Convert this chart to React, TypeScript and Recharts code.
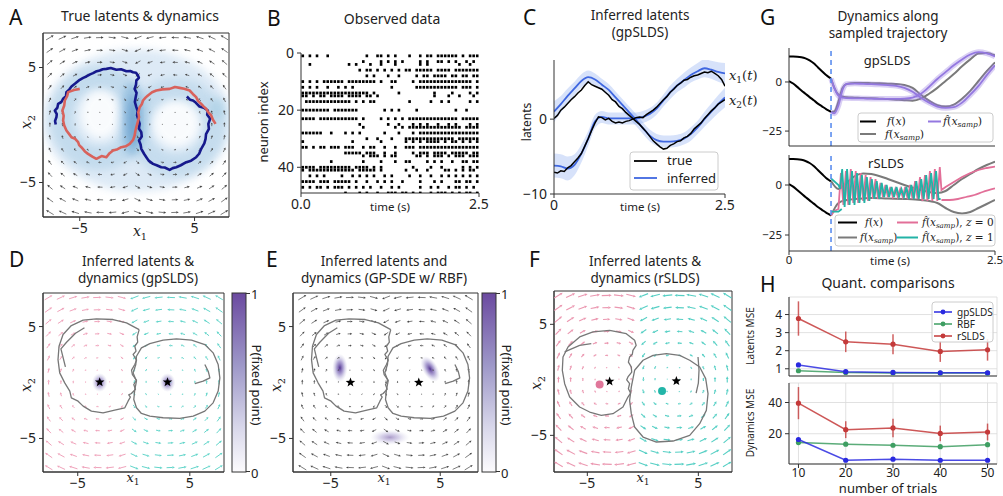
import React from "react";
import {
  ScatterChart, Scatter, XAxis, YAxis, ComposedChart, Line, Area, LineChart,
  ErrorBar, CartesianGrid, ReferenceLine, ReferenceArea,
} from "recharts";

const FONT = '"Noto Sans", "DejaVu Sans", sans-serif';
const MATH = '"DejaVu Serif", serif';
const INK = "#222";
const SPINE = "#333";
const M0 = { top: 0, right: 0, bottom: 0, left: 0 };

// ---------------- Panel A data ----------------
const A_BLUE: number[][] = [
  [4.33,2.48],[4.6,2.2],[4.86,2.13],[5.1,1.95],[5.43,1.61],[5.8,1.5],[6.16,1.26],[6.1,0.9],[6.36,0.54],[6.2,0.1],
  [6.25,-0.33],[6.0,-0.8],[5.96,-1.2],[5.85,-1.6],[5.58,-2.07],[5.4,-2.5],[5.14,-2.8],[4.7,-3.1],[4.28,-3.23],[3.8,-3.5],
  [3.41,-3.67],[3.1,-3.75],[2.83,-3.9],[2.4,-3.7],[2.1,-3.67],[1.7,-3.5],[1.38,-3.38],[1.0,-3.1],[0.8,-2.8],[0.6,-2.5],
  [0.36,-2.07],[0.3,-1.7],[0.16,-1.35],[0.4,-1.0],[0.36,-0.62],[0.15,-0.3],[0.22,0.1],[0.1,0.5],[-0.01,0.83],[0.05,1.2],
  [-0.07,1.55],[-0.2,2.0],[-0.13,2.42],[-0.05,2.8],[-0.22,3.14],[-0.1,3.5],[-0.07,3.87],[0.15,4.1],[0.07,4.3],[-0.1,4.55],
  [-0.36,4.59],[-0.6,4.7],[-0.94,4.68],[-1.4,4.85],[-1.81,4.8],[-2.3,4.95],[-2.68,4.88],[-3.0,4.85],[-3.26,4.74],[-3.6,4.65],
  [-3.84,4.51],[-4.1,4.4],[-4.42,4.22],[-4.7,4.1],[-5.0,3.93],[-5.4,3.6],[-5.72,3.35],[-5.9,3.1],[-6.16,2.86],[-6.2,2.5],
  [-6.45,2.28],[-6.6,2.0],[-6.88,1.84],[-6.95,1.5],[-7.17,1.26],[-7.0,0.95],[-7.03,0.68],[-7.15,0.35],[-7.09,0.04],
];
const A_RED: number[][] = [
  [-5.0,3.14],[-5.5,3.05],[-6.01,2.86],[-6.1,2.5],[-6.3,2.13],[-6.35,1.7],[-6.51,1.26],[-6.4,0.8],[-6.45,0.39],[-6.35,-0.05],
  [-6.16,-0.48],[-5.95,-0.75],[-5.72,-1.06],[-5.4,-1.2],[-5.14,-1.49],[-5.05,-1.75],[-4.86,-1.93],[-4.55,-2.3],[-4.28,-2.51],[-3.9,-2.75],
  [-3.55,-2.94],[-3.1,-2.7],[-2.68,-2.8],[-2.4,-2.45],[-2.1,-2.22],[-1.7,-2.1],[-1.38,-1.93],[-1.0,-1.85],[-0.65,-1.64],[-0.35,-1.3],
  [-0.22,-0.91],[-0.15,-0.5],[-0.07,-0.19],[0.05,0.25],[0.16,0.68],[0.1,1.1],[0.22,1.55],[0.4,1.8],[0.51,2.13],[0.75,2.4],
  [0.94,2.57],[1.3,2.85],[1.67,3.0],[2.2,3.1],[2.83,3.14],[3.3,3.3],[3.7,3.23],[4.1,3.15],[4.57,3.0],[4.85,2.7],
  [5.14,2.42],[5.3,2.1],[5.58,1.84],[5.8,1.6],[6.01,1.41],[6.2,1.1],[6.45,0.83],[6.6,0.45],[6.83,0.1],
];
// density blobs (x, y, rx, ry in data units)
const A_DENSITY = [
  { x: 0, y: 0.4, rx: 8.2, ry: 6.2, c: "#d2e3f3", o: 0.75, blur: true },
  { x: -3.3, y: 0.6, rx: 3.3, ry: 3.5, c: "#a9cce4", o: 0.5, ring: true, w: 2.0 },
  { x: 3.4, y: -0.2, rx: 3.3, ry: 3.3, c: "#a9cce4", o: 0.45, ring: true, w: 2.0 },
  { x: -3.2, y: 0.9, rx: 1.7, ry: 2.1, c: "#ffffff", o: 0.85, blur: true },
  { x: 3.4, y: 0.1, rx: 2.0, ry: 2.0, c: "#ffffff", o: 0.85, blur: true },
  { x: -0.45, y: 0.5, rx: 1.0, ry: 3.3, c: "#7fb2da", o: 0.6, blur: true },
  { x: -0.35, y: 0.3, rx: 0.45, ry: 2.2, c: "#4a86c0", o: 0.5, blur: true },
  { x: 7.0, y: 1.4, rx: 0.7, ry: 1.0, c: "#9ecae1", o: 0.5, blur: true },
];

// ---------------- vector field ----------------
const GRID = [-7.6, -6.5, -5.4, -4.3, -3.25, -2.15, -1.05, 0.05, 1.1, 2.2, 3.3, 4.35, 5.45, 6.5, 7.6];
const FP_LEFT = [-3, 0];
const FP_RIGHT = [3, 0];
function flowAt(x: number, y: number) {
  const left = x < 0;
  const c = left ? FP_LEFT : FP_RIGHT;
  const dx = x - c[0], dy = y - c[1];
  return left ? { u: dy, v: -dx } : { u: -dy, v: dx };
}
const QUIVER = GRID.flatMap((y) => GRID.map((x) => ({ x, y, ...flowAt(x, y) })));

// ---------------- Panel B data ----------------
const RASTER_ROWS: { n: number; s: string }[] = [
  { n: 1, s: "1.1.1..1.." + "........1." + ".11.1.1..." + "1..1.11.11" + "1111.1.111" },
  { n: 3, s: ".........." + ".......1.." + "..1.1.1.1." + "...1.1..11" + ".1.1..1.1." },
  { n: 4, s: "..1......." + "...1.1...1" + "..1...1..." + "...1.1...." + "....1..1.." },
  { n: 6, s: ".........." + "......1.11" + ".1.1.1.1.1" + "1.11111.11" + "11.1111111" },
  { n: 8, s: ".........." + "........1." + "1...1..1.." + "..1.11.111" + "1.11.11.11" },
  { n: 10, s: "1.1.1.1111" + "11.1111111" + "1.1..11..." + ".1.1111111" + "11111111.1" },
  { n: 12, s: "1.1.1..1.." + "1.1.1....." + ".....1...." + "..11111111" + "1111.111.1" },
  { n: 14, s: "1111111111" + "111111111." + "1......1.." + ".......1.." + "..1....1.1" },
  { n: 15, s: "11.1.11.11" + "11.1111.11" + ".1........" + ".......1.." + ".1..1...1." },
  { n: 17, s: ".111111111" + "1111.1.1.1" + "1........." + "1.....1..1" + ".1.....1.1" },
  { n: 20, s: "11111111.1" + "111111...." + "...1.1.1.." + "..1......." + "...1..1..." },
  { n: 23, s: "1111.11111" + "111111.1.." + "..1.1.1.1." + "1111111111" + "1111.11111" },
  { n: 25, s: ".........." + "......1..." + "....1..1.." + ".1.1.1..1." + ".1.1...1.1" },
  { n: 26, s: ".........." + ".......1.." + "......1.1." + "1111111111" + "11111.1111" },
  { n: 28, s: "111111..1." + "..1.1.1..." + "...1...1.." + ".1.1111111" + "1111111111" },
  { n: 30, s: ".........." + "........1." + ".1...1...1" + "1111111111" + "111.111111" },
  { n: 31, s: "1........." + "....1....." + "..1......1" + ".1.1.1111." + "1.11.1.1.1" },
  { n: 33, s: "11.1.11.11" + "1.111..1.1" + "1..1..1..1" + "11.1111111" + "1111111111" },
  { n: 35, s: ".........." + "..11111.11" + "1..1..1..." + ".1.111.111" + "1.11111.11" },
  { n: 36, s: ".........." + ".......1.1" + "11.1.11..." + "..11.1.111" + ".1.111.111" },
  { n: 38, s: "........1." + ".......1.." + "..1...1..1" + "1....1.1.1" + "..1..11.11" },
  { n: 40, s: "1111.11111" + "1111.1111." + "1.1......." + ".1....1..1" + ".....1.1.1" },
  { n: 41, s: "1.11111111" + "11111.1111" + "1.1......1" + "..1..1...." + "11.1.1.11." },
  { n: 43, s: "..1.1.1..." + ".1..1.1.1." + "1..1.1...." + "1..1..1..1" + ".1.1.1.1.1" },
  { n: 45, s: "1111.111.1" + "1111.1..1." + ".1.1.1..1." + "...1...1.1" + "...11.11.1" },
  { n: 47, s: "1.1.11.1.1" + "11.1.1.1.1" + "..1..1.1.." + "...1..1.1." + ".1.11.1.1." },
  { n: 49, s: ".........." + "..1...1.1." + ".1..111.11" + ".1.1..1.11" + "1.1.1.11.1" },
];
const SPIKES = RASTER_ROWS.flatMap((r) =>
  [...r.s].map((ch, i) => (ch === "1" ? { x: ((i + 0.5) * 2.5) / r.s.length, y: r.n } : null)).filter(Boolean)
) as { x: number; y: number }[];

// ---------------- Panel C data ----------------
const C_P_INF = [1.0,2.0,3.1,4.1,5.1,5.6,5.3,4.6,3.9,2.9,1.9,0.9,-0.1,-1.2,-2.2,-2.8,-3.0,-3.0,-2.9,-2.6,-2.0,-1.1,0.0,1.0,2.0,2.9];
const C_Q_INF = [-6.2,-6.3,-6.6,-6.1,-4.6,-2.6,-0.3,0.3,0.1,0.1,0.1,0.1,0.1,0.3,0.7,1.4,2.5,3.6,4.5,5.2,5.9,6.4,6.8,6.6,6.3,6.1];
const C_P_HW = [1.4,1.1,1.0,0.9,0.9,0.9,0.8,0.8,0.8,0.8,0.8,0.8,0.8,0.8,0.8,0.8,0.8,0.8,0.8,0.8,0.9,0.9,1.0,1.1,1.2,1.3];
const C_Q_HW = [1.6,1.6,1.6,1.4,1.2,1.0,0.9,0.8,0.8,0.8,0.8,0.8,0.8,0.8,0.8,0.8,0.8,0.9,0.9,1.0,1.0,1.1,1.2,1.2,1.3,1.4];
const C_P_TRUE = [0.1,0.5,1.2,1.6,2.1,2.6,3.0,3.5,3.9,4.5,5.0,4.6,4.4,4.2,4.0,3.6,3.2,2.6,2.3,1.7,1.4,0.9,0.5,0.1,-0.3,-0.7,-1.2,-1.7,-2.3,-2.9,-3.3,-3.7,-4.0,-3.9,-3.5,-3.3,-3.0,-2.9,-2.5,-2.3,-1.9,-1.3,-0.9,-0.5,0.1,0.6,1.1,1.5,2.0,2.3,2.6];
const C_Q_TRUE = [-7.1,-7.2,-6.9,-7.0,-6.5,-6.2,-5.7,-5.2,-4.6,-3.6,-2.6,-1.5,-0.5,0.3,0.2,-0.1,0.1,-0.3,-0.5,-0.4,-0.5,-0.3,-0.2,0.0,0.2,0.3,0.2,0.6,0.9,1.2,1.6,2.1,2.6,3.0,3.6,4.0,4.5,4.8,5.2,5.3,5.6,5.8,5.9,6.1,6.3,6.2,6.4,6.1,5.8,5.3,4.4];
const C_INF = C_P_INF.map((p, i) => ({
  t: i * 0.1, p, q: C_Q_INF[i],
  pb: [p - C_P_HW[i], p + C_P_HW[i]], qb: [C_Q_INF[i] - C_Q_HW[i], C_Q_INF[i] + C_Q_HW[i]],
}));
const C_TRUE = C_P_TRUE.map((p, i) => ({ t: i * 0.05, p, q: C_Q_TRUE[i] }));

// ---------------- Panel G data ----------------
const G_T_BLACK = [0,0.05,0.1,0.15,0.2,0.25,0.3,0.35,0.4,0.45,0.5,0.51];
const G_F1 = [13,13,12.9,12.6,12,11,9.5,7.5,5.5,3.5,2.0,1.7];
const G_F2 = [0.5,-0.8,-2.5,-4.3,-6,-7.7,-9.3,-11,-12.4,-13.8,-15,-15.3];
const G_T_S = [0.51,0.55,0.6,0.65,0.7,0.8,0.9,1.0,1.1,1.2,1.3,1.4,1.5,1.6,1.7,1.8,1.9,2.0,2.1,2.2,2.3,2.4,2.5];
const G_PURPLE_A = [1.7,-3,-7,-8,-8.2,-8.3,-8.4,-8.5,-8.6,-8.6,-8.6,-8.5,-8,-6,-2.5,1.5,5,8.5,11.5,14,15.2,14.6,13];
const G_PURPLE_B = [-15.3,-16,-12,-4,-1,-0.8,-1,-1.1,-1.3,-1.6,-2,-3,-5,-8,-10.5,-12.5,-13.2,-12.8,-10.5,-6.5,-2,3.5,8.5];
const G_GRAY_A = [1.7,-3,-6.5,-7.5,-7.8,-8,-8.2,-8.3,-8.5,-8.7,-9,-9.3,-9.5,-8.5,-6,-3,0.5,4,8,11.5,14.5,14.8,13.5];
const G_GRAY_B = [-15.3,-15,-10,-3,-1,-0.5,-0.5,-0.6,-0.7,-0.9,-1,-1.5,-3,-6.5,-9.5,-11.8,-12.5,-11.5,-8.5,-4.5,0.5,5.5,10];
const G_T_R = [0.51,0.6,0.7,0.8,0.9,1.0,1.2,1.4,1.6,1.8,1.9,2.0,2.1,2.2,2.3,2.4,2.5];
const G_R_GRAY_A = [2.0,-2,1,4.5,5.8,5.5,3,0,-2.5,-4,-3,0,3,5.5,8,10,11.7];
const G_R_GRAY_B = [-15.3,-9,-7.5,-7,-6.7,-6.5,-6.8,-7,-7.5,-9,-11.5,-13.5,-14.2,-13.5,-11.5,-9.5,-7.5];
const G_PINK: number[][] = [
  [0.51,-15.3],[0.55,-13],[0.6,-12],[0.63,6],[0.66,-10],[0.69,7],[0.72,-10],[0.75,8],[0.78,-9],[0.81,7],[0.84,-9],[0.87,6],
  [0.9,-8],[0.93,5],[0.96,-8],[0.99,4],[1.02,-7],[1.05,3],[1.08,-7],[1.11,1],[1.14,-6],[1.17,0],[1.2,-6],[1.23,-1],
  [1.26,-6],[1.29,-2],[1.32,-6],[1.35,-2],[1.38,-6],[1.41,-1],[1.44,-7],[1.47,0],[1.5,-7],[1.53,2],[1.56,-7],[1.59,4],
  [1.62,-8],[1.65,5],[1.68,-8],[1.71,7],[1.74,-8],[1.77,8],[1.8,-8],[1.83,9],[1.85,-2.5],[1.9,-1],[2.0,1.5],[2.1,4],
  [2.2,6],[2.3,7.5],[2.4,8.5],[2.5,9.2],
];
const G_PINK_B: number[][] = [[1.85,-7.5],[1.95,-7.5],[2.05,-7],[2.15,-6],[2.25,-5],[2.35,-3.5],[2.5,-1.7]];
const G_TEAL: number[][] = [
  [0.51,3.3],[0.6,0],[0.62,-2],[0.645,8],[0.675,-11],[0.705,8],[0.735,-10],[0.765,7],[0.795,-10],[0.825,6],[0.855,-9],
  [0.885,5],[0.915,-9],[0.945,4],[0.975,-8],[1.005,3],[1.035,-7],[1.065,2],[1.095,-7],[1.125,1],[1.155,-6],[1.185,0],
  [1.215,-6],[1.245,-1],[1.275,-6],[1.305,-1],[1.335,-6],[1.365,-2],[1.395,-6],[1.425,-1],[1.455,-7],[1.485,0],[1.515,-7],
  [1.545,2],[1.575,-7],[1.605,3],[1.635,-7],[1.665,5],[1.695,-7],[1.725,6],[1.755,-7],[1.785,7],[1.815,-7],[1.84,-7],
];
const G_TEAL_B: number[][] = [[0.51,-13.3],[0.6,-13.3],[0.64,-12]];
const G_SPLIT = 0.51;

// ---------------- Panels D/E/F data ----------------
const DE_LEFT: number[][] = [
  [0.48,4.73],[-0.65,5.33],[-1.85,5.63],[-3.33,5.68],[-4.52,5.57],[-5.57,5.09],[-6.31,4.29],[-6.67,3.24],[-6.76,2.05],
  [-6.61,0.86],[-6.16,-0.03],[-5.71,-0.77],[-5.57,-1.37],[-4.97,-1.67],[-4.52,-2.11],[-3.78,-2.56],[-2.74,-2.71],
  [-1.7,-2.47],[-0.8,-2.26],[-0.51,-1.67],[-0.3,-1.3],[-0.45,-1.1],[-0.21,-0.98],[0.15,-0.6],[0.0,-0.18],[0.25,0.2],
  [-0.12,0.71],[-0.2,1.1],[0.09,1.61],[0.25,2.0],[-0.06,2.5],[0.2,2.8],[0.09,3.24],[0.35,3.6],[0.3,4.08],[0.48,4.73],
];
const DE_LEFT_BRANCH: number[][] = [[-4.4,4.9],[-5.2,4.4],[-6.0,3.6],[-6.5,3.0],[-6.3,2.2],[-6.1,1.4]];
const DE_RIGHT: number[][] = [
  [0.24,2.35],[0.68,3.1],[1.43,3.48],[2.62,3.78],[3.81,3.9],[5.15,3.78],[6.34,3.39],[7.08,2.65],[7.53,1.61],[7.68,0.42],
  [7.53,-0.77],[7.08,-1.82],[6.34,-2.56],[5.3,-3.01],[4.11,-3.21],[2.62,-3.15],[1.43,-3.01],[0.68,-2.77],[0.24,-2.26],
  [0.0,-1.52],[0.09,-0.63],[0.24,0.12],[-0.06,0.86],[0.18,1.61],[0.24,2.35],
];
const DE_RIGHT_HOOK: number[][] = [[6.34,1.61],[6.64,1.01],[6.79,0.42],[6.19,0.12],[5.45,-0.09]];
const F_LEFT: number[][] = [
  [-0.74,3.56],[-1.49,4.16],[-2.99,4.46],[-4.49,4.31],[-5.69,3.86],[-6.74,2.96],[-7.19,2.06],[-7.25,0.86],[-7.04,-0.35],
  [-6.59,-1.55],[-5.69,-2.45],[-4.79,-2.9],[-3.74,-3.2],[-2.69,-3.05],[-1.79,-2.45],[-1.34,-1.55],[-1.1,-1.2],[-1.3,-0.8],
  [-1.19,-0.35],[-1.45,0.0],[-1.34,0.26],[-1.0,0.7],[-1.04,1.16],[-1.3,1.6],[-1.19,2.06],[-0.95,2.3],[-0.89,2.66],
  [-0.6,3.1],[-0.74,3.56],
];
const F_LEFT_BRANCH: number[][] = [[-7.04,2.51],[-5.69,3.11],[-4.64,3.26]];
const F_RIGHT: number[][] = [
  [-1.04,-0.65],[-0.74,0.86],[0.02,1.76],[0.92,2.21],[2.12,2.36],[3.32,2.21],[4.22,1.76],[5.12,1.16],[5.66,0.11],
  [5.87,-1.25],[5.72,-2.75],[5.12,-3.95],[4.22,-5.0],[2.72,-5.51],[1.22,-5.6],[0.02,-5.15],[-0.74,-4.25],[-1.04,-3.05],
  [-1.19,-1.85],[-1.04,-0.65],
];
const F_RIGHT_TAIL: number[][] = [[4.97,2.06],[5.06,0.86],[5.0,-0.3],[4.8,-1.2]];
const D_STARS = [{ x: -3.04, y: 0.03 }, { x: 3.01, y: 0.03 }];
const E_STARS = [{ x: -3.2, y: 0.0 }, { x: 3.04, y: 0.0 }];
const F_STARS = [{ x: -2.99, y: -0.14 }, { x: 3.02, y: -0.11 }];
const F_DOTS = [{ x: -3.89, y: -0.41, c: "#e0779a" }, { x: 1.73, y: -1.01, c: "#22b5a8" }];
const D_BLOBS = [
  { x: -3.04, y: 0.0, rx: 0.7, ry: 0.85, o: 0.85 },
  { x: 3.01, y: 0.0, rx: 0.7, ry: 0.85, o: 0.85 },
];
const E_BLOBS = [
  { x: -4.17, y: 1.3, rx: 0.7, ry: 1.3, o: 1 },
  { x: 4.08, y: 1.21, rx: 0.7, ry: 1.3, o: 1, rot: -30 },
  { x: 0.4, y: -4.9, rx: 1.8, ry: 0.7, o: 0.5 },
];

// ---------------- Panel H data ----------------
const N_TRIALS = [10, 20, 30, 40, 50];
const LAT_GP = [1.21, 0.84, 0.8, 0.78, 0.78];
const LAT_GP_E = [0.06, 0.03, 0.02, 0.02, 0.02];
const LAT_RBF = [0.89, 0.8, 0.77, 0.76, 0.76];
const LAT_RBF_E = [0.04, 0.02, 0.02, 0.02, 0.02];
const LAT_RS = [3.78, 2.49, 2.36, 1.96, 2.05];
const LAT_RS_E = [0.95, 0.57, 0.55, 0.58, 0.6];
const DYN_GP = [16.3, 3.0, 3.7, 3.0, 3.0];
const DYN_GP_E = [0.8, 0.4, 0.5, 0.3, 0.3];
const DYN_RBF = [14.3, 13.3, 12.6, 11.7, 13.0];
const DYN_RBF_E = [0.8, 0.5, 0.5, 0.5, 0.5];
const DYN_RS = [39.6, 22.6, 23.7, 20.2, 21.1];
const DYN_RS_E = [10.3, 5.4, 5.9, 5.0, 5.4];
const H_LAT = N_TRIALS.map((n, i) => ({ n, gp: LAT_GP[i], gpE: LAT_GP_E[i], rbf: LAT_RBF[i], rbfE: LAT_RBF_E[i], rs: LAT_RS[i], rsE: LAT_RS_E[i] }));
const H_DYN = N_TRIALS.map((n, i) => ({ n, gp: DYN_GP[i], gpE: DYN_GP_E[i], rbf: DYN_RBF[i], rbfE: DYN_RBF_E[i], rs: DYN_RS[i], rsE: DYN_RS_E[i] }));

// ---------------- helpers ----------------
type Box = { L: number; T: number; R: number; B: number };
const fmt = (v: number) => String(v).replace("-", "\u2212");
const tickStyle = (fs: number) => ({ fontSize: fs, fill: INK, fontFamily: FONT });
const toXY = (a: number[][]) => a.map(([x, y]) => ({ x, y }));
const toTV = (t: number[], v: number[]) => t.map((tt, i) => ({ t: tt, v: v[i] }));
const pairsTV = (a: number[][]) => a.map(([t, v]) => ({ t, v }));
const noShape = () => <g />;

function Frame({ box, yW, xH, children }: { box: Box; yW: number; xH: number; children: (w: number, h: number) => React.ReactNode }) {
  const w = box.R - box.L + yW;
  const h = box.B - box.T + xH;
  return <div style={{ position: "absolute", left: box.L - yW, top: box.T, width: w, height: h }}>{children(w, h)}</div>;
}

function xAx(domain: [number, number], ticks: number[], opts: any = {}) {
  return (
    <XAxis type="number" dataKey="x" domain={domain} ticks={ticks} allowDataOverflow interval={0}
      tickSize={4} tickMargin={2} tick={tickStyle(14)} tickFormatter={fmt}
      axisLine={{ stroke: SPINE }} tickLine={{ stroke: SPINE }} height={30} {...opts} />
  );
}
function yAx(domain: [number, number], ticks: number[], width: number, opts: any = {}) {
  return (
    <YAxis type="number" dataKey="y" domain={domain} ticks={ticks} allowDataOverflow interval={0} width={width}
      tickSize={4} tickMargin={3} tick={tickStyle(14)} tickFormatter={fmt}
      axisLine={{ stroke: SPINE }} tickLine={{ stroke: SPINE }} {...opts} />
  );
}
function frameRect(xd: [number, number], yd: [number, number]) {
  return <ReferenceArea x1={xd[0]} x2={xd[1]} y1={yd[0]} y2={yd[1]} fill="none" fillOpacity={0} stroke={SPINE} strokeWidth={1} ifOverflow="visible" />;
}

function makeArrow(k: number, maxL: number, colorFor: (p: any) => string, sw = 0.8, head = 1) {
  return (props: any) => {
    const { cx, cy, payload } = props;
    const m = Math.hypot(payload.u, payload.v);
    if (!m || cx == null) return <g />;
    const L = Math.max(1.1, Math.min(maxL, k * m));
    const ux = payload.u / m, uy = -payload.v / m;
    const x0 = cx - (ux * L) / 2, y0 = cy - (uy * L) / 2;
    const x1 = cx + (ux * L) / 2, y1 = cy + (uy * L) / 2;
    const hl = Math.min(2.6 * head, L * 0.45);
    const hw = Math.min(1.2 * head, 0.25 * L + 0.35);
    const bx = x1 - ux * hl, by = y1 - uy * hl;
    const c = colorFor(payload);
    return (
      <g>
        <line x1={x0} y1={y0} x2={bx} y2={by} stroke={c} strokeWidth={sw} />
        <polygon points={`${x1},${y1} ${bx - uy * hw},${by + ux * hw} ${bx + uy * hw},${by - ux * hw}`} fill={c} />
      </g>
    );
  };
}
const blobShape = (S: number) => (props: any) => {
  const { cx, cy, payload: p } = props;
  if (cx == null) return <g />;
  if (p.ring)
    return <ellipse cx={cx} cy={cy} rx={p.rx * S} ry={p.ry * S} fill="none" stroke={p.c} strokeWidth={p.w * S} opacity={p.o} filter="url(#blurA)" />;
  return <ellipse cx={cx} cy={cy} rx={p.rx * S} ry={p.ry * S} fill={p.c} opacity={p.o} filter={p.blur ? "url(#blurA)" : undefined} />;
};
const purpleBlob = (S: number) => (props: any) => {
  const { cx, cy, payload: p } = props;
  if (cx == null) return <g />;
  return <ellipse cx={cx} cy={cy} rx={p.rx * S} ry={p.ry * S} fill="url(#purpBlob)" opacity={p.o}
    transform={p.rot ? `rotate(${p.rot} ${cx} ${cy})` : undefined} />;
};
const starShape = (r: number) => (props: any) => {
  const { cx, cy } = props;
  if (cx == null) return <g />;
  const pts: string[] = [];
  for (let i = 0; i < 10; i++) {
    const a = ((-90 + i * 36) * Math.PI) / 180;
    const rr = i % 2 ? r * 0.42 : r;
    pts.push(`${cx + rr * Math.cos(a)},${cy + rr * Math.sin(a)}`);
  }
  return <polygon points={pts.join(" ")} fill="#000" />;
};
const dotShape = (props: any) => {
  const { cx, cy, payload } = props;
  if (cx == null) return <g />;
  return <circle cx={cx} cy={cy} r={4} fill={payload.c} />;
};
const spikeShape = (props: any) => {
  const { cx, cy } = props;
  if (cx == null) return <g />;
  return <rect x={cx - 1.3} y={cy - 1.4} width={2.6} height={2.8} fill="#000" />;
};

function traj(data: number[][], color: string, w: number, key: string) {
  return (
    <Scatter key={key} data={toXY(data)} fill={color} shape={noShape} line={{ stroke: color, strokeWidth: w, strokeLinejoin: "round" }}
      lineType="joint" isAnimationActive={false} />
  );
}

// ---------------- Panels ----------------
const A_BOX: Box = { L: 43, T: 33, R: 229, B: 217 };
const A_XD: [number, number] = [-8.2, 8.0];
const A_YD: [number, number] = [-8, 8];
function PanelA() {
  const S = (A_BOX.R - A_BOX.L) / (A_XD[1] - A_XD[0]);
  return (
    <Frame box={A_BOX} yW={40} xH={30}>
      {(w, h) => (
        <ScatterChart width={w} height={h} margin={M0}>
          {xAx(A_XD, [-5, 5])}
          {yAx(A_YD, [-5, 5], 40)}
          <Scatter data={A_DENSITY} shape={blobShape(S)} isAnimationActive={false} />
          <Scatter data={QUIVER} shape={makeArrow(1.0, 10, () => "#444", 0.7)} isAnimationActive={false} />
          {traj(A_BLUE, "#16198c", 2.6, "blue")}
          {traj(A_RED, "#d8625c", 2.6, "red")}
          {frameRect(A_XD, A_YD)}
        </ScatterChart>
      )}
    </Frame>
  );
}

const B_BOX: Box = { L: 301, T: 53, R: 479, B: 193 };
function PanelB() {
  return (
    <Frame box={B_BOX} yW={40} xH={30}>
      {(w, h) => (
        <ScatterChart width={w} height={h} margin={M0}>
          {xAx([0, 2.5], [0, 2.5], { tickFormatter: (v: number) => v.toFixed(1) })}
          {yAx([0, 49], [0, 20, 40], 40, { reversed: true })}
          <Scatter data={SPIKES} shape={spikeShape} isAnimationActive={false} />
        </ScatterChart>
      )}
    </Frame>
  );
}

const C_BOX: Box = { L: 554, T: 60, R: 725, B: 194 };
function PanelC() {
  return (
    <Frame box={C_BOX} yW={45} xH={30}>
      {(w, h) => (
        <ComposedChart width={w} height={h} margin={M0} data={C_INF}>
          <XAxis type="number" dataKey="t" domain={[0, 2.5]} ticks={[0, 2.5]} allowDataOverflow interval={0}
            tickSize={4} tickMargin={2} tick={tickStyle(14)} tickFormatter={(v: number) => (v === 0 ? "0" : "2.5")}
            axisLine={{ stroke: SPINE }} tickLine={{ stroke: SPINE }} height={30} />
          <YAxis type="number" domain={[-10, 7.9]} ticks={[-10, 0]} allowDataOverflow interval={0} width={45}
            tickSize={4} tickMargin={3} tick={tickStyle(14)} tickFormatter={fmt}
            axisLine={{ stroke: SPINE }} tickLine={{ stroke: SPINE }} />
          <Area dataKey="pb" type="monotone" fill="#7096ee" fillOpacity={0.28} stroke="none" isAnimationActive={false} />
          <Area dataKey="qb" type="monotone" fill="#7096ee" fillOpacity={0.28} stroke="none" isAnimationActive={false} />
          <Line dataKey="p" type="monotone" stroke="#3f67e0" strokeWidth={1.8} dot={false} isAnimationActive={false} />
          <Line dataKey="q" type="monotone" stroke="#3f67e0" strokeWidth={1.8} dot={false} isAnimationActive={false} />
          <Line data={C_TRUE} dataKey="p" type="linear" stroke="#000" strokeWidth={1.5} dot={false} isAnimationActive={false} />
          <Line data={C_TRUE} dataKey="q" type="linear" stroke="#000" strokeWidth={1.5} dot={false} isAnimationActive={false} />
        </ComposedChart>
      )}
    </Frame>
  );
}

function gAxes(yd: [number, number], showX: boolean) {
  return [
    <XAxis key="x" type="number" dataKey="t" domain={[0, 2.5]} ticks={[0, 2.5]} allowDataOverflow interval={0}
      tickSize={showX ? 4 : 0} tickMargin={1} tick={showX ? tickStyle(11.5) : false}
      tickFormatter={(v: number) => (v === 0 ? "0" : "2.5")}
      axisLine={{ stroke: SPINE }} tickLine={{ stroke: SPINE }} height={showX ? 22 : 1} />,
    <YAxis key="y" type="number" dataKey="v" domain={yd} ticks={[-25, 0]} allowDataOverflow interval={0} width={30}
      tickSize={4} tickMargin={3} tick={tickStyle(11.5)} tickFormatter={fmt}
      axisLine={{ stroke: SPINE }} tickLine={{ stroke: SPINE }} />,
  ];
}
const lineEl = (key: string, data: any[], color: string, w: number, type: any = "monotone", op = 1) => (
  <Line key={key} data={data} dataKey="v" type={type} stroke={color} strokeWidth={w} strokeOpacity={op} dot={false} isAnimationActive={false} />
);

const G1_BOX: Box = { L: 789, T: 48, R: 995, B: 146 };
const G2_BOX: Box = { L: 789, T: 155, R: 995, B: 251 };
const PURPLE = "#9478e0";
const PINK = "#e26f98";
const TEAL = "#23b3a6";
const GRAY = "#7a7a7a";
function PanelG() {
  return (
    <>
      <Frame box={G1_BOX} yW={30} xH={1}>
        {(w, h) => (
          <ComposedChart width={w} height={h} margin={M0}>
            {gAxes([-32.6, 17.3], false)}
            {lineEl("b1", toTV(G_T_BLACK, G_F1), "#000", 2)}
            {lineEl("b2", toTV(G_T_BLACK, G_F2), "#000", 2)}
            {lineEl("ga", toTV(G_T_S, G_GRAY_A), GRAY, 2)}
            {lineEl("gb", toTV(G_T_S, G_GRAY_B), GRAY, 2)}
            {lineEl("pa0", toTV(G_T_S, G_PURPLE_A), PURPLE, 5.5, "monotone", 0.35)}
            {lineEl("pb0", toTV(G_T_S, G_PURPLE_B), PURPLE, 5.5, "monotone", 0.35)}
            {lineEl("pa", toTV(G_T_S, G_PURPLE_A), PURPLE, 1.8)}
            {lineEl("pb", toTV(G_T_S, G_PURPLE_B), PURPLE, 1.8)}
            <ReferenceLine x={G_SPLIT} stroke="#5b8def" strokeDasharray="5 4" strokeWidth={1.6} />
          </ComposedChart>
        )}
      </Frame>
      <Frame box={G2_BOX} yW={30} xH={22}>
        {(w, h) => (
          <ComposedChart width={w} height={h} margin={M0}>
            {gAxes([-33, 15], true)}
            {lineEl("b1", toTV(G_T_BLACK, G_F1), "#000", 2)}
            {lineEl("b2", toTV(G_T_BLACK, G_F2), "#000", 2)}
            {lineEl("ga", toTV(G_T_R, G_R_GRAY_A), GRAY, 2)}
            {lineEl("gb", toTV(G_T_R, G_R_GRAY_B), GRAY, 2)}
            {lineEl("p", pairsTV(G_PINK), PINK, 1.8, "linear")}
            {lineEl("pb", pairsTV(G_PINK_B), PINK, 1.8, "monotone")}
            {lineEl("t", pairsTV(G_TEAL), TEAL, 1.8, "linear")}
            {lineEl("tb", pairsTV(G_TEAL_B), TEAL, 1.8, "linear")}
            <ReferenceLine x={G_SPLIT} stroke="#5b8def" strokeDasharray="5 4" strokeWidth={1.6} />
          </ComposedChart>
        )}
      </Frame>
    </>
  );
}

function FieldPanel({ box, xd, yd, k, maxL, color, sw, head, trajs, stars, blobs, dots }: any) {
  const S = (box.R - box.L) / (xd[1] - xd[0]);
  return (
    <Frame box={box} yW={40} xH={30}>
      {(w, h) => (
        <ScatterChart width={w} height={h} margin={M0}>
          {xAx(xd, [-5, 5])}
          {yAx(yd, [-5, 5], 40)}
          {blobs ? <Scatter data={blobs} shape={purpleBlob(S)} isAnimationActive={false} /> : null}
          <Scatter data={QUIVER} shape={makeArrow(k, maxL, color, sw, head)} isAnimationActive={false} />
          {trajs.map((t: number[][], i: number) => traj(t, "#777", 1.3, "t" + i))}
          {dots ? <Scatter data={dots} shape={dotShape} isAnimationActive={false} /> : null}
          <Scatter data={stars} shape={starShape(5)} isAnimationActive={false} />
          {frameRect(xd, yd)}
        </ScatterChart>
      )}
    </Frame>
  );
}

const H1_BOX: Box = { L: 789, T: 297, R: 997, B: 376 };
const H2_BOX: Box = { L: 789, T: 383, R: 997, B: 464 };
const H_BLUE = "#2a2ae0";
const H_GREEN = "#3e9e62";
const H_RED = "#c43a3a";
function hLines() {
  return [
    ["rbf", H_GREEN],
    ["gp", H_BLUE],
    ["rs", H_RED],
  ].map(([k, c]) => (
    <Line key={k} dataKey={k} stroke={c} strokeWidth={1.5} strokeOpacity={0.85} type="linear"
      dot={{ r: 2.6, fill: c, stroke: c, strokeWidth: 0 }} isAnimationActive={false}>
      <ErrorBar dataKey={k + "E"} width={0} stroke={c} strokeWidth={1.5} strokeOpacity={0.8} direction="y" />
    </Line>
  ));
}
function PanelH() {
  return (
    <>
      <Frame box={H1_BOX} yW={30} xH={1}>
        {(w, h) => (
          <LineChart width={w} height={h} margin={M0} data={H_LAT}>
            <CartesianGrid stroke="#d9d9d9" strokeWidth={0.8} />
            <XAxis type="number" dataKey="n" domain={[8, 52]} ticks={N_TRIALS} allowDataOverflow interval={0}
              tick={false} tickSize={3} axisLine={{ stroke: SPINE }} tickLine={{ stroke: SPINE }} height={1} />
            <YAxis type="number" domain={[0.6, 4.97]} ticks={[1, 2, 3, 4]} allowDataOverflow interval={0} width={30}
              tickSize={4} tickMargin={3} tick={tickStyle(12)} axisLine={{ stroke: SPINE }} tickLine={{ stroke: SPINE }} />
            {hLines()}
          </LineChart>
        )}
      </Frame>
      <Frame box={H2_BOX} yW={30} xH={18}>
        {(w, h) => (
          <LineChart width={w} height={h} margin={M0} data={H_DYN}>
            <CartesianGrid stroke="#d9d9d9" strokeWidth={0.8} />
            <XAxis type="number" dataKey="n" domain={[8, 52]} ticks={N_TRIALS} allowDataOverflow interval={0}
              tickSize={4} tickMargin={0} tick={tickStyle(12)} axisLine={{ stroke: SPINE }} tickLine={{ stroke: SPINE }} height={18} />
            <YAxis type="number" domain={[0.6, 52.5]} ticks={[20, 40]} allowDataOverflow interval={0} width={30}
              tickSize={4} tickMargin={3} tick={tickStyle(12)} axisLine={{ stroke: SPINE }} tickLine={{ stroke: SPINE }} />
            {hLines()}
          </LineChart>
        )}
      </Frame>
    </>
  );
}

// ---------------- overlay text ----------------
function Overlay() {
  const letter = (x: number, y: number, s: string) => (
    <text x={x} y={y} fontSize={21} fill="#111" fontFamily={FONT}>{s}</text>
  );
  const title = (x: number, y: number, s: string, fs = 14) => (
    <text x={x} y={y} fontSize={fs} textAnchor="middle" fill={INK} fontFamily={FONT}>{s}</text>
  );
  const rotText = (x: number, y: number, s: string, fs: number, rot = -90) => (
    <text x={x} y={y} fontSize={fs} textAnchor="middle" fill={INK} fontFamily={FONT} transform={`rotate(${rot} ${x} ${y})`}>{s}</text>
  );
  const xsub = (x: number, y: number, n: string, fs = 14, rot = 0) => (
    <text x={x} y={y} fontSize={fs} fontFamily={MATH} fill={INK} textAnchor="middle"
      transform={rot ? `rotate(${rot} ${x} ${y})` : undefined}>
      <tspan fontStyle="italic">x</tspan>
      <tspan fontSize={fs * 0.7} dy={fs * 0.25}>{n}</tspan>
    </text>
  );
  const xt = (x: number, y: number, n: string) => (
    <text x={x} y={y} fontSize={13} fontFamily={MATH} fill={INK}>
      <tspan fontStyle="italic">x</tspan>
      <tspan fontSize={9} dy={3}>{n}</tspan>
      <tspan dy={-3}>(</tspan>
      <tspan fontStyle="italic">t</tspan>
      <tspan>)</tspan>
    </text>
  );
  const fx = (x: number, y: number, hat: boolean, samp: boolean, z: string | null, fs = 11) => (
    <text x={x} y={y} fontSize={fs} fontFamily={MATH} fill={INK}>
      <tspan fontStyle="italic">{hat ? "f\u0302" : "f"}</tspan>
      <tspan>(</tspan>
      <tspan fontStyle="italic">x</tspan>
      {samp ? <tspan fontStyle="italic" fontSize={fs * 0.68} dy={fs * 0.22}>samp</tspan> : null}
      <tspan dy={samp ? -fs * 0.22 : 0}>)</tspan>
      {z !== null ? <tspan>{", "}</tspan> : null}
      {z !== null ? <tspan fontStyle="italic">z</tspan> : null}
      {z !== null ? <tspan>{" = " + z}</tspan> : null}
    </text>
  );
  const legLine = (x1: number, x2: number, y: number, c: string, w = 2) => (
    <line x1={x1} x2={x2} y1={y} y2={y} stroke={c} strokeWidth={w} />
  );
  const hEntry = (y: number, c: string, s: string) => (
    <g>
      <line x1={934} x2={952} y1={y} y2={y} stroke={c} strokeWidth={1.5} />
      <circle cx={943} cy={y} r={2.4} fill={c} />
      <text x={957} y={y + 3.5} fontSize={10} fontFamily={FONT} fill={INK}>{s}</text>
    </g>
  );
  const cbar = (x: number) => (
    <g>
      <rect x={x} y={293} width={14} height={179} fill="url(#cbGrad)" stroke={SPINE} strokeWidth={1} />
      <line x1={x + 14} x2={x + 18} y1={293.5} y2={293.5} stroke={SPINE} />
      <line x1={x + 14} x2={x + 18} y1={471.5} y2={471.5} stroke={SPINE} />
      <text x={x + 19} y={299} fontSize={13} fontFamily={FONT} fill={INK}>1</text>
      <text x={x + 19} y={478} fontSize={13} fontFamily={FONT} fill={INK}>0</text>
      {rotText(x + 20, 385, "P(fixed point)", 13, 90)}
    </g>
  );
  return (
    <svg width={1003} height={496} style={{ position: "absolute", left: 0, top: 0, pointerEvents: "none" }}>
      {letter(9, 25, "A")}
      {letter(267, 26, "B")}
      {letter(523, 25, "C")}
      {letter(760, 25, "G")}
      {letter(9, 267, "D")}
      {letter(266, 267, "E")}
      {letter(529, 267, "F")}
      {letter(760, 292, "H")}

      {title(140, 21, "True latents & dynamics")}
      {title(392, 24, "Observed data")}
      {title(640, 20, "Inferred latents", 13.5)}
      {title(640, 37, "(gpSLDS)", 13.5)}
      {title(888, 21, "Dynamics along", 13.5)}
      {title(888, 38, "sampled trajectory", 13.5)}
      {title(138, 266, "Inferred latents &", 13.5)}
      {title(138, 283, "dynamics (gpSLDS)", 13.5)}
      {title(384, 266, "Inferred latents and", 13.5)}
      {title(384, 283, "dynamics (GP-SDE w/ RBF)", 13.5)}
      {title(645, 266, "Inferred latents &", 13.5)}
      {title(645, 283, "dynamics (rSLDS)", 13.5)}
      {title(888, 288, "Quant. comparisons")}

      {xsub(140, 236, "1")}
      {xsub(31, 122, "2", 14, -90)}
      {xsub(133, 482, "1", 13)}
      {xsub(31, 385, "2", 14, -90)}
      {xsub(384, 482, "1", 13)}
      {xsub(281, 385, "2", 14, -90)}
      {xsub(643, 482, "1", 13)}
      {xsub(541, 383, "2", 14, -90)}

      {title(390, 211, "time (s)", 11.5)}
      {rotText(268, 122, "neuron index", 13)}
      {title(640, 211, "time (s)", 11.5)}
      {rotText(531, 122, "latents", 12)}
      {xt(729, 80, "1")}
      {xt(729, 105, "2")}
      {title(890, 265, "time (s)", 11.5)}
      {title(888, 493, "number of trials", 13)}
      {rotText(754, 336, "Latents MSE", 10)}
      {rotText(754, 423, "Dynamics MSE", 10)}
      <text x={887} y={65} fontSize={13} textAnchor="middle" fontFamily={FONT} fill={INK}>gpSLDS</text>
      <text x={886} y={168} fontSize={13} textAnchor="middle" fontFamily={FONT} fill={INK}>rSLDS</text>

      {/* C legend */}
      <rect x={630} y={152} width={88} height={38} rx={3} fill="#fff" fillOpacity={0.85} stroke="#ccc" />
      {legLine(634, 657, 161, "#000", 1.8)}
      {legLine(634, 657, 178, "#3f67e0", 1.8)}
      <text x={667} y={165} fontSize={13} fontFamily={FONT} fill={INK}>true</text>
      <text x={667} y={183} fontSize={13} fontFamily={FONT} fill={INK}>inferred</text>

      {/* G top legend */}
      <rect x={858} y={113} width={135} height={29} rx={3} fill="#fff" fillOpacity={0.85} stroke="#ccc" />
      {legLine(860, 876, 121.5, "#000", 2)}
      {fx(887, 125, false, false, null)}
      {legLine(928, 941, 121.5, PURPLE, 2)}
      {fx(943, 125, true, true, null)}
      {legLine(860, 876, 134, GRAY, 2)}
      {fx(885, 138, false, true, null)}

      {/* G bottom legend */}
      <rect x={835} y={215} width={160} height={31} rx={3} fill="#fff" fillOpacity={0.85} stroke="#ccc" />
      {legLine(838, 857, 222.5, "#000", 2)}
      {fx(865, 226, false, false, null, 10.5)}
      {legLine(838, 857, 237.5, GRAY, 2)}
      {fx(860, 241, false, true, null, 10.5)}
      {legLine(897, 918, 222.5, PINK, 2)}
      {fx(922, 226, true, true, "0", 10.5)}
      {legLine(897, 918, 237.5, TEAL, 2)}
      {fx(922, 241, true, true, "1", 10.5)}

      {/* H legend */}
      <rect x={932} y={302} width={61} height={40} rx={3} fill="#fff" fillOpacity={0.85} stroke="#ccc" />
      {hEntry(312, H_BLUE, "gpSLDS")}
      {hEntry(324, H_GREEN, "RBF")}
      {hEntry(336, H_RED, "rSLDS")}

      {cbar(232)}
      {cbar(482)}
    </svg>
  );
}

const D_BOX: Box = { L: 43, T: 293, R: 224, B: 472 };
const E_BOX: Box = { L: 293, T: 293, R: 478, B: 472 };
const F_BOX: Box = { L: 554, T: 291, R: 732, B: 472 };

export default function App() {
  return (
    <div style={{ position: "fixed", left: 0, top: 0, width: 1003, height: 496, background: "#fff", fontFamily: FONT, overflow: "hidden" }}>
      <style>{`.recharts-surface{overflow:visible}`}</style>
      <svg width={0} height={0} style={{ position: "absolute" }}>
        <defs>
          <filter id="blurA" x="-50%" y="-50%" width="200%" height="200%">
            <feGaussianBlur stdDeviation="4" />
          </filter>
          <radialGradient id="purpBlob">
            <stop offset="0%" stopColor="#4b2a8a" stopOpacity={0.95} />
            <stop offset="45%" stopColor="#7b68b8" stopOpacity={0.6} />
            <stop offset="100%" stopColor="#bcbddc" stopOpacity={0} />
          </radialGradient>
          <linearGradient id="cbGrad" x1="0" y1="0" x2="0" y2="1">
            <stop offset="0%" stopColor="#6b4aa0" />
            <stop offset="40%" stopColor="#9d97c8" />
            <stop offset="75%" stopColor="#d8d7ea" />
            <stop offset="100%" stopColor="#fcfbfd" />
          </linearGradient>
        </defs>
      </svg>
      <PanelA />
      <PanelB />
      <PanelC />
      <PanelG />
      <FieldPanel box={D_BOX} xd={[-8.1, 8.05]} yd={[-8, 8]} k={1.1} maxL={9}
        color={(p: any) => (p.x < 0 ? "#f0a3bb" : "#62d5ca")} sw={1} head={1}
        trajs={[DE_LEFT, DE_LEFT_BRANCH, DE_RIGHT, DE_RIGHT_HOOK]} stars={D_STARS} blobs={D_BLOBS} />
      <FieldPanel box={E_BOX} xd={[-8.45, 8.45]} yd={[-8, 8]} k={1.05} maxL={11}
        color={() => "#444"} sw={0.7} head={0.9}
        trajs={[DE_LEFT, DE_LEFT_BRANCH, DE_RIGHT, DE_RIGHT_HOOK]} stars={E_STARS} blobs={E_BLOBS} />
      <FieldPanel box={F_BOX} xd={[-8, 8.03]} yd={[-8.3, 8]} k={1.35} maxL={10}
        color={(p: any) => (p.x < 0 ? "#eb97b0" : "#55cfc4")} sw={1.1} head={1.1}
        trajs={[F_LEFT, F_LEFT_BRANCH, F_RIGHT, F_RIGHT_TAIL]} stars={F_STARS} dots={F_DOTS} />
      <PanelH />
      <Overlay />
    </div>
  );
}
